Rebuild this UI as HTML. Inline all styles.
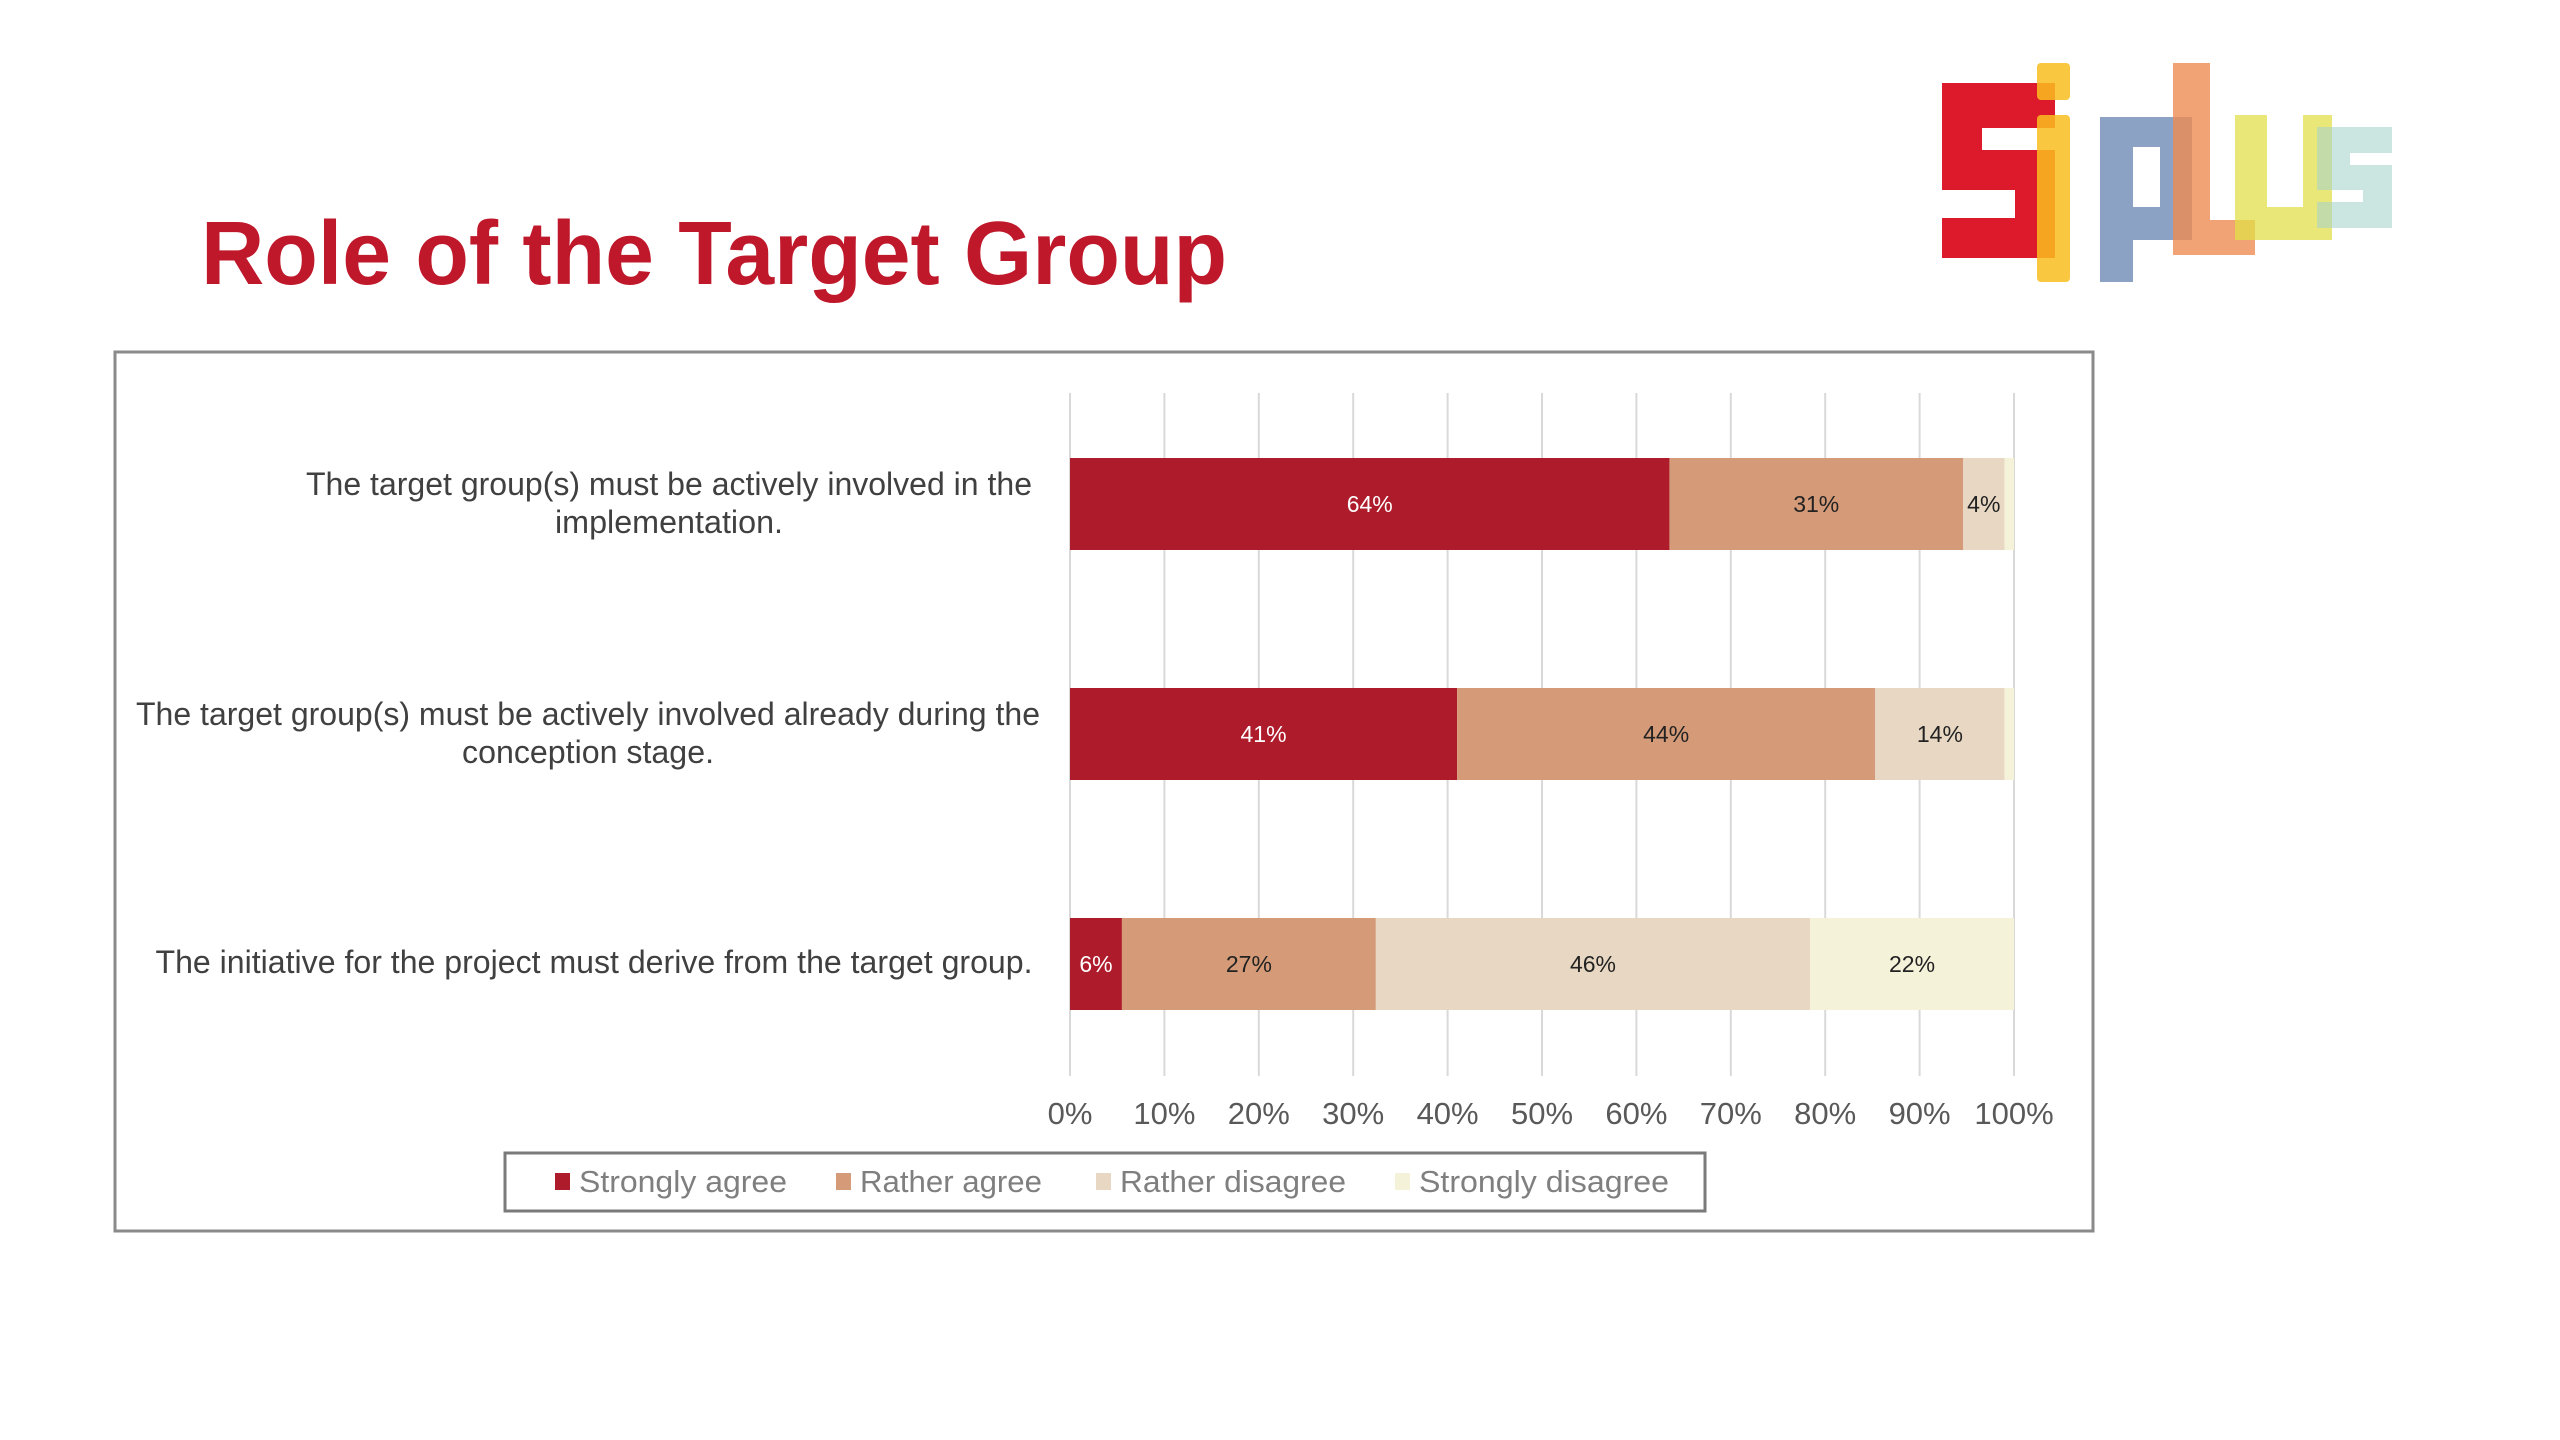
<!DOCTYPE html>
<html><head><meta charset="utf-8"><style>
html,body{margin:0;padding:0;background:#fff;width:2560px;height:1440px;overflow:hidden}
svg{display:block;font-family:"Liberation Sans",sans-serif}
</style></head><body>
<svg id="chart" width="2560" height="1440" viewBox="0 0 2560 1440">
<g>
  <path d="M1942 83h113v175h-113z M1982 128v22h73v-22z M1942 190v28h73v-28z" fill="#DC1A2C" fill-rule="evenodd"/>
  <rect x="2037" y="63" width="33" height="37" rx="4" fill="#F9BE1E" opacity="0.85"/>
  <rect x="2037" y="115" width="33" height="167" rx="4" fill="#F9BE1E" opacity="0.85"/>
  <path d="M2100 117h92v123h-59v42h-33z M2133 147v60h27v-60z" fill="#7F98BE" fill-rule="evenodd" opacity="0.9"/>
  <path d="M2173 63h37v157h45v35h-82z" fill="#EE8C52" opacity="0.8"/>
  <path d="M2235 115h32v92h36v-92h29v125h-97z" fill="#E2DF4A" opacity="0.75"/>
  <path d="M2317 127h75v26h-42v12h42v63h-75v-26h46v-12h-46z" fill="#A8D3CC" opacity="0.6"/>
</g>
<text x="201" y="284" font-size="90" font-weight="bold" fill="#C0182B" textLength="1026" lengthAdjust="spacingAndGlyphs">Role of the Target Group</text>
<rect x="115" y="352" width="1978" height="879" fill="#fff" stroke="#8a8a8a" stroke-width="3"/>
<g id="grid"></g><g id="bars"></g><g id="cats"></g><g id="ticks"></g>
<rect x="505" y="1153" width="1200" height="58" fill="#fff" stroke="#7a7a7a" stroke-width="3"/>
<g id="legend"></g>
</svg>
<script>
const categories = [
  ["The target group(s) must be actively involved in the","implementation."],
  ["The target group(s) must be actively involved already during the","conception stage."],
  ["The initiative for the project must derive from the target group."]
];
const seriesNames = ["Strongly agree","Rather agree","Rather disagree","Strongly disagree"];
const stronglyAgree = [63.5, 41, 5.5];
const ratherAgree = [31.1, 44.3, 26.9];
const ratherDisagree = [4.4, 13.7, 46];
const stronglyDisagree = [1, 1, 21.6];
const valueLabels = [["64%","31%","4%",""],["41%","44%","14%",""],["6%","27%","46%","22%"]];
const tickValues = [0,10,20,30,40,50,60,70,80,90,100];
const tickLabels = ["0%","10%","20%","30%","40%","50%","60%","70%","80%","90%","100%"];

const NS="http://www.w3.org/2000/svg";
const colors=["#AE1B2B","#D59B78","#E8D8C3","#F5F2DA"];
const textCol=["#fff","#222","#222","#222"];
const x0=1070,x1=2014;
const xs=v=>x0+(x1-x0)*v/100;
const rowY=i=>458+i*230; const barH=92;
function mk(t,a,p){const e=document.createElementNS(NS,t);for(const k in a)e.setAttribute(k,a[k]);p.appendChild(e);return e;}
const grid=document.getElementById('grid');
tickValues.forEach((v,i)=>{
  const l=mk('line',{x1:xs(v),x2:xs(v),y1:393,y2:1076,stroke:'#d9d9d9','stroke-width':2},grid);
  
  
  const t=mk('text',{x:xs(v),y:1124,'font-size':31,fill:'#595959','text-anchor':'middle'},document.getElementById('ticks'));
  t.textContent=tickLabels[i];
  
  
});
const series=[stronglyAgree,ratherAgree,ratherDisagree,stronglyDisagree];
const bars=document.getElementById('bars');
categories.forEach((c,i)=>{
  let acc=0;
  series.forEach((s,j)=>{
    const a=xs(acc),b=xs(acc+s[i]);acc+=s[i];
    const r=mk('rect',{x:a,y:rowY(i),width:b-a,height:barH,fill:colors[j]},bars);
    
    
    if(valueLabels[i][j]){
      const t=mk('text',{x:(a+b)/2,y:rowY(i)+barH/2+8,'font-size':23,fill:textCol[j],'text-anchor':'middle'},bars);
      t.textContent=valueLabels[i][j];
      
      
    }
  });
});
const cats=document.getElementById('cats');
const catLines=[[[669,495,726],[669,533,228]],[[588,725,904],[588,763,252]],[[594,973,877]]];
categories.forEach((c,i)=>{
  c.forEach((line,k)=>{
    const p=catLines[i][k];
    const t=mk('text',{x:p[0],y:p[1],'font-size':32,fill:'#404040','text-anchor':'middle',textLength:p[2],lengthAdjust:'spacingAndGlyphs'},cats);
    t.textContent=line;
    
    
  });
});
const leg=document.getElementById('legend');
const legX=[555,836,1096,1395],legW=[208,182,226,250];
seriesNames.forEach((n,j)=>{
  const g=mk('g',{},leg);
  
  
  mk('rect',{x:legX[j],y:1173,width:15,height:17,fill:colors[j]},g);
  const t=mk('text',{x:legX[j]+24,y:1192,'font-size':31,fill:'#7f7f7f',textLength:legW[j],lengthAdjust:'spacingAndGlyphs'},g);
  t.textContent=n;
});
</script>
</body></html>
